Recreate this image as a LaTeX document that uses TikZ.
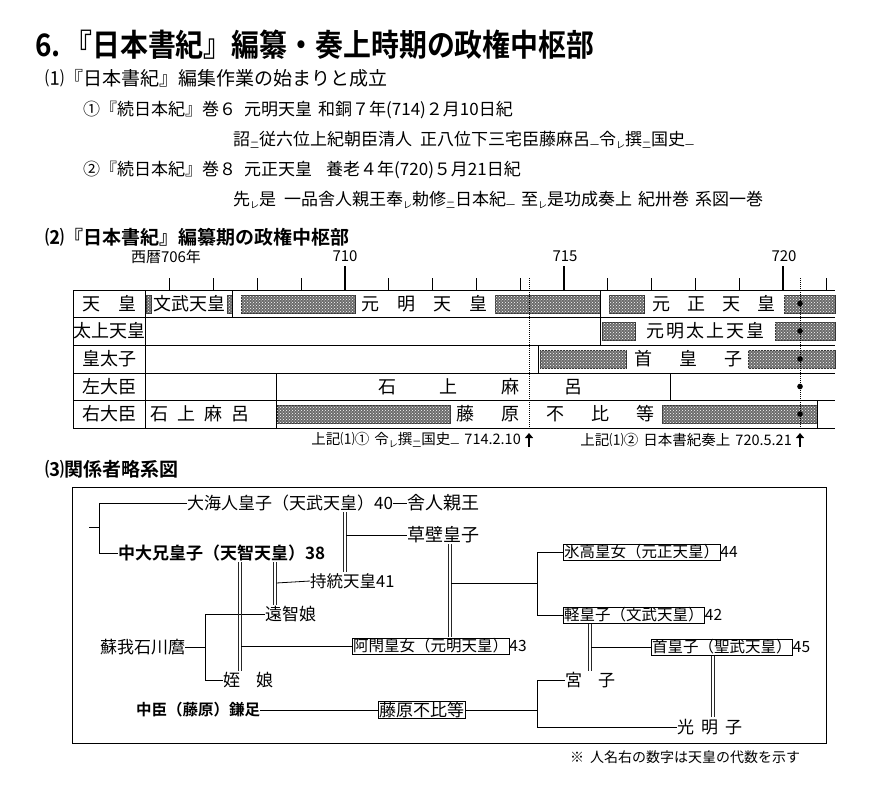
\documentclass[tikz,border=0pt]{standalone}
\usepackage{fontspec}
\setmainfont{Noto Sans CJK JP}[BoldFont={Noto Sans CJK JP Bold}]
\usetikzlibrary{patterns,arrows.meta}
\newcommand{\fs}[1]{\fontsize{#1}{#1}\selectfont}
\newcommand{\kt}[1]{\raisebox{-0.15em}{\fontsize{9}{9}\selectfont #1}}
\newcommand{\dbl}[2]{%
  \draw[line width=0.7pt,black!85] ([xshift=-1.3pt]#1) -- ([xshift=-1.3pt]#2);
  \draw[line width=0.7pt,black!85] ([xshift=1.3pt]#1) -- ([xshift=1.3pt]#2);}
\tikzset{
  t/.style={anchor=west,inner sep=0pt,font=\fs{17}},
  c/.style={anchor=center,inner sep=0pt,font=\fs{18}},
  yr/.style={anchor=center,inner sep=0pt,font=\fs{15}},
  hatch/.style={draw=black!80,line width=0.4pt,fill=black!58,postaction={pattern=crosshatch dots,pattern color=white}},
  tl/.style={line width=0.9pt},
  bx/.style={anchor=west,draw,line width=0.6pt,inner sep=0.8pt,font=\fs{15.5}},
  nm/.style={anchor=west,inner sep=0pt,font=\fs{16.5}},
  ln/.style={line width=0.8pt}
}
\begin{document}
\begin{tikzpicture}[x=1pt,y=-1pt]
\useasboundingbox (0,0) rectangle (882,787);
% title
\node[anchor=west,inner sep=0pt] (title) at (35,45) {\scalebox{0.9}[1]{\fs{31}\bfseries 6.\hspace{4pt}『日本書紀』編纂・奏上時期の政権中枢部}};
\node[t,font=\fs{19}] (h1) at (45,78) {⑴『日本書紀』編集作業の始まりと成立};
\node[t] (l1) at (83,110) {①『続日本紀』巻６\hspace{8pt}元明天皇\hspace{6pt}和銅７年(714)２月10日紀};
\node[t] (l2) at (233,140) {詔\kt{二}従六位上紀朝臣清人\hspace{8pt}正八位下三宅臣藤麻呂\kt{一}令\kt{レ}撰\kt{二}国史\kt{一}};
\node[t] (l3) at (83,170) {②『続日本紀』巻８\hspace{8pt}元正天皇\hspace{14pt}養老４年(720)５月21日紀};
\node[t] (l4) at (233,200) {先\kt{レ}是\hspace{8pt}一品舎人親王奉\kt{レ}勅修\kt{二}日本紀\kt{一}\hspace{6pt}至\kt{レ}是功成奏上\hspace{6pt}紀卅巻\hspace{6pt}系図一巻};
\node[t,font=\fs{19}\bfseries] (h2) at (45,237) {⑵『日本書紀』編纂期の政権中枢部};
% years
\node[yr] (y706) at (166,257) {西暦706年};
\node[yr] (y710) at (345,256) {710};
\node[yr] (y715) at (565,256) {715};
\node[yr] (y720) at (784,256) {720};
\foreach \k in {706,...,721}{
  \pgfmathsetmacro{\xx}{345+(\k-710)*43.8}
  \draw[line width=0.9pt] (\xx,278) -- (\xx,290);
}
\foreach \xx in {345,564,783}{\draw[line width=1.4pt] (\xx,266) -- (\xx,290);}
% hatched bars
\foreach \a/\b/\r in {146/151/290,227/232/290,241/355/290,495/600/290,609/644/290,784/835/290,
                      602/635/317,775/835/317,
                      540/626/345,748/835/345,
                      277/450/400,662/817/400}{
  \path[hatch] (\a,\r+5) rectangle (\b,\r+23);
}
% grid
\foreach \yy in {290,317,345,373,400,428}{\draw[tl] (73,\yy) -- (835,\yy);}
\draw[tl] (73,290) -- (73,428);
\draw[tl] (145,290) -- (145,428);
\draw[tl] (232,290) -- (232,317);
\draw[tl] (600,290) -- (600,345);
\draw[tl] (538,345) -- (538,373);
\draw[tl] (276,373) -- (276,428);
\draw[tl] (670,373) -- (670,400);
\draw[tl] (817,400) -- (817,428);
% row labels
\node[c] (r1) at (109,304) {天\hspace{18pt}皇};
\node[c] (r2) at (109,331) {太上天皇};
\node[c] (r3) at (109,359) {皇太子};
\node[c] (r4) at (109,387) {左大臣};
\node[c] (r5) at (109,414) {右大臣};
% row texts
\node[c] (c1a) at (189,304) {文武天皇};
\node[c] (c1b) at (424,304) {元\hspace{18pt}明\hspace{18pt}天\hspace{18pt}皇};
\node[c] (c1c) at (714,304) {元\hspace{17pt}正\hspace{17pt}天\hspace{17pt}皇};
\node[c] (c2) at (705,331) {元\hspace{2pt}明\hspace{2pt}太\hspace{2pt}上\hspace{2pt}天\hspace{2pt}皇};
\node[c] (c3) at (688,359) {首\hspace{27pt}皇\hspace{27pt}子};
\node[c] (c4) at (480,387) {石\hspace{44pt}上\hspace{44pt}麻\hspace{44pt}呂};
\node[c] (c5a) at (200,414) {石\hspace{9pt}上\hspace{9pt}麻\hspace{9pt}呂};
\node[c] (c5b) at (555,414) {藤\hspace{27pt}原\hspace{27pt}不\hspace{27pt}比\hspace{27pt}等};
% dotted markers
\coordinate (d1t) at (529,278); \coordinate (d1b) at (529,428);
\coordinate (d2t) at (800,278); \coordinate (d2b) at (800,428);
\draw[line width=1pt,densely dotted] (d1t) -- (d1b);
\draw[line width=1pt,densely dotted] (d2t) -- (d2b);
\foreach \yy in {303.5,331,359,386.5,414}{\fill (800,\yy) circle (2.8pt);}
% annotations
\node[anchor=east,inner sep=0pt,font=\fs{14.5}] (a1) at (521,440) {上記⑴①\hspace{5pt}令\kt{レ}撰\kt{二}国史\kt{一}\hspace{5pt}714.2.10};
\node[anchor=east,inner sep=0pt,font=\fs{14.5}] (a2) at (792,440) {上記⑴②\hspace{5pt}日本書紀奏上\hspace{5pt}720.5.21};
\coordinate (ar1a) at (529,447); \coordinate (ar1b) at (529,433);
\coordinate (ar2a) at (800,447); \coordinate (ar2b) at (800,433);
\draw[line width=2.2pt,-{Triangle[width=8pt,length=5pt]}] (ar1a) -- (ar1b);
\draw[line width=2.2pt,-{Triangle[width=8pt,length=5pt]}] (ar2a) -- (ar2b);
% section 3
\node[t,font=\fs{19}\bfseries] (h3) at (45,469) {⑶関係者略系図};
\draw[line width=0.9pt] (72,487) rectangle (826,743);
\node[anchor=west,inner sep=0pt,font=\fs{14}] (note) at (570,757) {※\hspace{6pt}人名右の数字は天皇の代数を示す};
% tree nodes
\node[nm,font=\fs{17}] (n1) at (187,503) {大海人皇子（天武天皇）40};
\node[nm,font=\fs{18}] (n2) at (407,503) {舎人親王};
\node[nm,font=\fs{17}\bfseries] (n3) at (118,553) {中大兄皇子（天智天皇）38};
\node[nm,font=\fs{18}] (n4) at (407,535) {草壁皇子};
\node[nm] (n5) at (310,581) {持統天皇41};
\node[nm,font=\fs{17}] (n6) at (265,614) {遠智娘};
\node[nm,font=\fs{17}] (n7) at (100,647) {蘇我石川麿};
\node[nm,font=\fs{17}] (n8) at (223,680) {姪\hspace{16pt}娘};
\node[bx] (n9) at (352,646) {阿閇皇女（元明天皇）};
\node[nm,font=\fs{15.5}] (n9n) at (n9.east) {43};
\node[bx] (n10) at (563,552) {氷高皇女（元正天皇）};
\node[nm,font=\fs{15.5}] (n10n) at (n10.east) {44};
\node[bx] (n11) at (563,615) {軽皇子（文武天皇）};
\node[nm,font=\fs{15.5}] (n11n) at (n11.east) {42};
\node[bx] (n12) at (651,647) {首皇子（聖武天皇）};
\node[nm,font=\fs{15.5}] (n12n) at (n12.east) {45};
\node[nm,font=\fs{17}] (n13) at (565,680) {宮\hspace{16pt}子};
\node[nm,font=\fs{15.5}\bfseries] (n14) at (136,710) {中臣（藤原）鎌足};
\node[bx,font=\fs{17}] (n15) at (378,710) {藤原不比等};
\node[nm,font=\fs{17}] (n16) at (677,727) {光\hspace{7pt}明\hspace{7pt}子};
% tree connectors
\coordinate (b1) at (99,503); \coordinate (b2) at (99,553);
\coordinate (b0) at (89,527); \coordinate (bm) at (99,527);
\draw[ln] (n1.west) -- (b1) -- (b2) -- (n3.west);
\draw[ln] (b0) -- (bm);
\draw[ln] (n1.east) -- (n2.west);
% Tenmu - Jito
\coordinate (m1a) at (345,512); \coordinate (m1b) at (345,572); \coordinate (m1c) at (346.3,535);
\dbl{m1a}{m1b}
\draw[ln] (m1c) -- (n4.west);
% Tenji - Ochi no iratsume
\coordinate (m2a) at (275,562); \coordinate (m2b) at (275,605); \coordinate (m2c) at (276.3,583);
\dbl{m2a}{m2b}
\draw[ln] (m2c) -- (n5.west);
% Soga
\coordinate (s1) at (205,614); \coordinate (s2) at (205,680); \coordinate (s0) at (205,647);
\draw[ln] (n7.east) -- (s0);
\draw[ln] (n6.west) -- (s1) -- (s2) -- (n8.west);
% Tenji - Mei no iratsume
\coordinate (m3a) at (240,562); \coordinate (m3b) at (240,671); \coordinate (m3c) at (241.3,646);
\dbl{m3a}{m3b}
\draw[ln] (m3c) -- (n9.west);
% Kusakabe - Ahe
\coordinate (m4a) at (450,544); \coordinate (m4b) at (450,637); \coordinate (m4c) at (451.3,583);
\coordinate (j1) at (537,583); \coordinate (j1t) at (537,552); \coordinate (j1b) at (537,615);
\dbl{m4a}{m4b}
\draw[ln] (m4c) -- (j1);
\draw[ln] (n10.west) -- (j1t) -- (j1b) -- (n11.west);
% Karu - Miyako
\coordinate (m5a) at (590,624); \coordinate (m5b) at (590,671); \coordinate (m5c) at (591.3,647);
\dbl{m5a}{m5b}
\draw[ln] (m5c) -- (n12.west);
% Kamatari - Fuhito
\draw[ln] (n14.east) -- (n15.west);
\coordinate (j2) at (537,710); \coordinate (j2t) at (537,680); \coordinate (j2b) at (537,727);
\draw[ln] (n15.east) -- (j2);
\draw[ln] (n13.west) -- (j2t) -- (j2b) -- (n16.west);
% Obito - Komyoshi
\coordinate (m6a) at (713,656); \coordinate (m6b) at (713,717);
\dbl{m6a}{m6b}
\end{tikzpicture}
\end{document}
